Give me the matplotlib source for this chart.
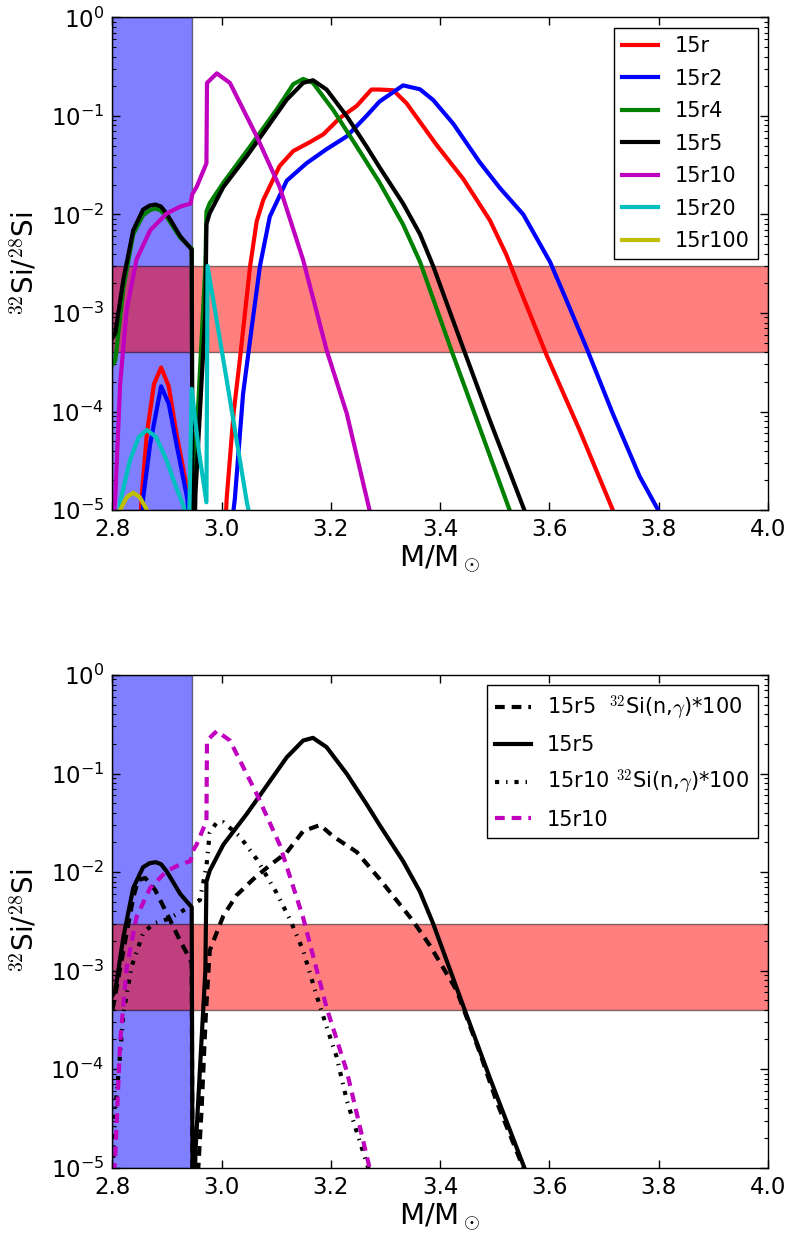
import matplotlib
matplotlib.use("Agg")
import matplotlib.pyplot as plt

plt.rcParams['mathtext.fontset'] = 'cm'
plt.rcParams['axes.unicode_minus'] = False
plt.rcParams['lines.scale_dashes'] = False

# --- top panel: 32Si/28Si for the different rate multipliers ---
x_15r = [2.845, 2.853, 2.863, 2.876, 2.889, 2.903, 2.917, 2.937, 2.945, 3.0, 3.009, 3.022, 3.033, 3.052,
         3.064, 3.076, 3.106, 3.131, 3.161, 3.186, 3.216, 3.247, 3.274, 3.289, 3.314, 3.338, 3.393, 3.442,
         3.491, 3.521, 3.546, 3.595, 3.655, 3.716, 3.73]
y_15r = [1e-6, 1.3e-5, 6e-5, 1.9e-4, 2.8e-4, 1.8e-4, 6e-5, 1.6e-5, 4e-6, 1e-6, 1.3e-5, 1e-4, 3.3e-4, 3e-3,
         8.5e-3, 1.4e-2, 3.1e-2, 4.4e-2, 5.4e-2, 6.5e-2, 9.5e-2, 1.26e-1, 1.85e-1, 1.85e-1, 1.82e-1, 1.35e-1,
         5.1e-2, 2.3e-2, 8.7e-3, 3.9e-3, 1.74e-3, 3.7e-4, 6.5e-5, 1e-5, 6e-6]

x_15r2 = [2.85, 2.856, 2.869, 2.889, 2.903, 2.917, 2.937, 2.945, 3.0, 3.024, 3.039, 3.055, 3.07, 3.088, 3.119,
          3.155, 3.192, 3.229, 3.265, 3.289, 3.332, 3.363, 3.387, 3.424, 3.472, 3.509, 3.552, 3.601, 3.631,
          3.668, 3.716, 3.765, 3.799, 3.81]
y_15r2 = [1e-6, 1.3e-5, 4.7e-5, 1.8e-4, 1.2e-4, 4.7e-5, 1.3e-5, 4e-6, 1e-6, 1.3e-5, 1.5e-4, 7.2e-4, 3e-3,
          9.5e-3, 2.2e-2, 3.3e-2, 4.6e-2, 6.2e-2, 0.1, 0.14, 0.204, 0.186, 0.145, 0.083, 0.034, 0.0186, 0.01,
          3.3e-3, 1.35e-3, 4.4e-4, 9.5e-5, 2.2e-5, 1e-5, 6e-6]

x_15r4 = [2.8, 2.805, 2.82, 2.838, 2.856, 2.868, 2.878, 2.888, 2.899, 2.924, 2.945, 2.947, 2.95, 2.96, 2.97,
          2.972, 2.978, 3.003, 3.052, 3.1, 3.131, 3.149, 3.167, 3.204, 3.247, 3.289, 3.332, 3.363, 3.421,
          3.472, 3.527, 3.54]
y_15r4 = [3e-4, 3.3e-4, 1.8e-3, 6.3e-3, 9.8e-3, 1.1e-2, 1.15e-2, 1.1e-2, 9.5e-3, 5.8e-3, 4.5e-3, 1e-6, 2e-5,
          2.5e-4, 3e-3, 1.07e-2, 1.3e-2, 2.1e-2, 4.9e-2, 1.15e-1, 2.1e-1, 2.37e-1, 2.16e-1, 1.15e-1, 4.9e-2,
          2.1e-2, 7.9e-3, 3.3e-3, 4.1e-4, 6.9e-5, 1e-5, 6.5e-6]

x_15r5 = [2.8, 2.805, 2.82, 2.838, 2.856, 2.868, 2.879, 2.889, 2.899, 2.924, 2.945, 2.947, 2.952, 2.97, 2.972,
          2.978, 3.003, 3.046, 3.076, 3.119, 3.149, 3.167, 3.192, 3.229, 3.265, 3.289, 3.332, 3.363, 3.387,
          3.442, 3.491, 3.554, 3.57]
y_15r5 = [5.6e-4, 6.2e-4, 2.2e-3, 6.9e-3, 1.12e-2, 1.23e-2, 1.26e-2, 1.2e-2, 1.02e-2, 6e-3, 4.4e-3, 1e-6,
          1.5e-5, 1e-3, 8e-3, 1.03e-2, 1.9e-2, 3.9e-2, 6.7e-2, 1.46e-1, 2.16e-1, 2.3e-1, 1.85e-1, 9.9e-2,
          4.9e-2, 3.0e-2, 1.29e-2, 6.3e-3, 3e-3, 4.4e-4, 8.1e-5, 1e-5, 6e-6]

x_15r10 = [2.8, 2.805, 2.814, 2.826, 2.844, 2.869, 2.899, 2.924, 2.943, 2.946, 2.954, 2.972, 2.973, 2.991,
           3.015, 3.064, 3.106, 3.149, 3.192, 3.229, 3.265, 3.28]
y_15r10 = [6e-6, 1.3e-5, 1.9e-4, 1.07e-3, 3.5e-3, 6.9e-3, 1.02e-2, 1.2e-2, 1.29e-2, 1.6e-2, 1.9e-2, 3.3e-2,
           2.16e-1, 2.7e-1, 2.16e-1, 6.2e-2, 1.9e-2, 3.45e-3, 4.2e-4, 9.5e-5, 1.35e-5, 6e-6]

x_15r20 = [2.81, 2.814, 2.832, 2.848, 2.863, 2.88, 2.899, 2.915, 2.93, 2.94, 2.945, 2.958, 2.972, 2.974,
           3.009, 3.046, 3.055]
y_15r20 = [5e-6, 1.2e-5, 3.2e-5, 5.5e-5, 6.5e-5, 5.5e-5, 3.2e-5, 1.8e-5, 1.1e-5, 6e-6, 1.7e-4, 4e-5, 1.2e-5,
           3e-3, 2.1e-4, 1.2e-5, 7e-6]

x_15r100 = [2.81, 2.814, 2.826, 2.838, 2.85, 2.863, 2.87]
y_15r100 = [5e-6, 1e-5, 1.35e-5, 1.5e-5, 1.35e-5, 1e-5, 7e-6]

# --- bottom panel: 32Si(n,g) rate * 100 ---
x_15r5_ng = [2.8, 2.82, 2.838, 2.847, 2.86, 2.878, 2.905, 2.924, 2.939, 2.945, 2.947, 2.963, 2.971, 2.978,
             3.003, 3.027, 3.058, 3.088, 3.119, 3.149, 3.18, 3.204, 3.247, 3.289, 3.35, 3.381, 3.43, 3.472,
             3.503, 3.552, 3.57]
y_15r5_ng = [4e-4, 1.6e-3, 5.5e-3, 8.3e-3, 8.7e-3, 6.6e-3, 3.3e-3, 2e-3, 1.4e-3, 1.2e-3, 1e-6, 3.8e-5,
             3.7e-4, 1.6e-3, 3.6e-3, 5.8e-3, 8.5e-3, 1.17e-2, 1.58e-2, 2.6e-2, 3e-2, 2.3e-2, 1.6e-2, 8.5e-3,
             3.2e-3, 1.8e-3, 6.3e-4, 1.5e-4, 4.7e-5, 1e-5, 5e-6]

x_15r10_ng = [2.8, 2.805, 2.811, 2.82, 2.835, 2.856, 2.875, 2.899, 2.924, 2.942, 2.96, 2.972, 2.978, 2.991,
              3.003, 3.033, 3.064, 3.1, 3.125, 3.149, 3.174, 3.192, 3.21, 3.229, 3.268, 3.28]
y_15r10_ng = [8e-6, 3.9e-5, 9e-5, 3.7e-4, 1.1e-3, 2.4e-3, 3e-3, 3.3e-3, 3.9e-3, 4.5e-3, 5.2e-3, 1.15e-2,
              2.5e-2, 3.2e-2, 3.2e-2, 2.3e-2, 1.35e-2, 6.2e-3, 3.3e-3, 1.6e-3, 5.5e-4, 2.7e-4, 1.35e-4,
              4.8e-5, 1e-5, 6e-6]

# shaded regions
span_x = (2.8, 2.945)
band_y = (4e-4, 3e-3)
xticks = [2.8, 3.0, 3.2, 3.4, 3.6, 3.8, 4.0]

fig = plt.figure(figsize=(7.85, 12.38), dpi=100)
ax1 = fig.add_axes([0.1433, 0.588, 0.835, 0.398])
ax2 = fig.add_axes([0.1433, 0.0568, 0.835, 0.398])

lw = 3
top_series = [(x_15r, y_15r, 'r', '15r'), (x_15r2, y_15r2, 'b', '15r2'), (x_15r4, y_15r4, 'g', '15r4'),
              (x_15r5, y_15r5, 'k', '15r5'), (x_15r10, y_15r10, 'm', '15r10'),
              (x_15r20, y_15r20, 'c', '15r20'), (x_15r100, y_15r100, 'y', '15r100')]
for xs, ys, c, lab in top_series:
    ax1.plot(xs, ys, color=c, lw=lw, label=lab)

ax2.plot(x_15r5_ng, y_15r5_ng, color='k', lw=lw, dashes=(7, 5),
         label=r'15r5  $^{32}$Si(n,$\gamma$)*100')
ax2.plot(x_15r5, y_15r5, color='k', lw=lw, label='15r5')
ax2.plot(x_15r10_ng, y_15r10_ng, color='k', lw=lw, dashes=(3, 5, 1, 5),
         label=r'15r10 $^{32}$Si(n,$\gamma$)*100')
ax2.plot(x_15r10, y_15r10, color='m', lw=lw, dashes=(7, 5), label='15r10')

for ax in (ax1, ax2):
    ax.axvspan(span_x[0], span_x[1], facecolor='b', edgecolor='k', lw=1, alpha=0.5, zorder=1)
    ax.axhspan(band_y[0], band_y[1], facecolor='r', edgecolor='k', lw=1, alpha=0.5, zorder=1)
    ax.set_yscale('log')
    ax.set_xlim(2.8, 4.0)
    ax.set_ylim(1e-5, 1)
    ax.set_xticks(xticks)
    ax.set_xticklabels([f"{t:.1f}" for t in xticks])
    ax.tick_params(which='both', direction='in', top=True, right=True, labelsize=16.5, pad=6)
    ax.tick_params(which='major', length=5.5, width=1)
    ax.tick_params(which='minor', length=3, width=0.8)
    ax.set_xlabel(r'M/M$_\odot$', fontsize=21, labelpad=2)
    ax.set_ylabel(r'$^{32}$Si/$^{28}$Si', fontsize=20, labelpad=8)
    for s in ax.spines.values():
        s.set_linewidth(1)

leg_kw = dict(loc='upper right', fancybox=False, framealpha=1, edgecolor='k', fontsize=15,
              handlelength=1.7, labelspacing=0.6)
ax1.legend(**leg_kw).get_frame().set_linewidth(1)
ax2.legend(**leg_kw).get_frame().set_linewidth(1)

fig.savefig('out.png', dpi=100)
